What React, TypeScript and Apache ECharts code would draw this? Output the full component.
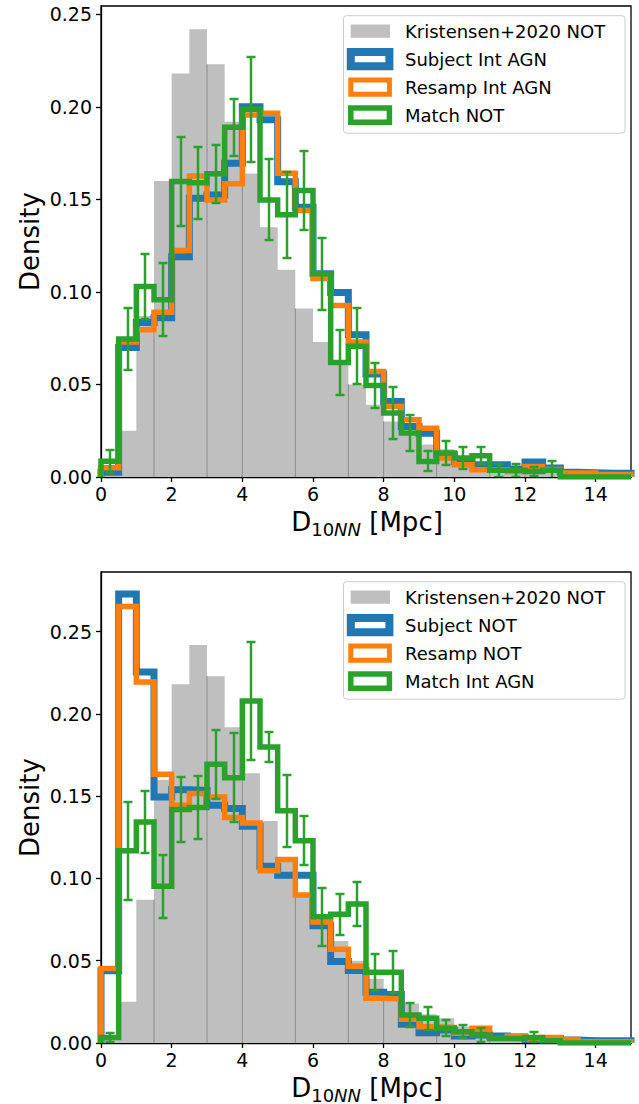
import { useEffect, useRef } from 'react';
import * as echarts from 'echarts';

const BIN = 0.5;
const X_MAX = 15;
const xTicks = [0, 2, 4, 6, 8, 10, 12, 14];
const yTicks = [0, 0.05, 0.1, 0.15, 0.2, 0.25];

// Kristensen+2020 NOT (same reference histogram in both panels)
const kristensen = [0.002, 0.025, 0.087, 0.16, 0.218, 0.242, 0.223, 0.192, 0.164, 0.135, 0.112, 0.091, 0.073, 0.062, 0.05, 0.039, 0.03, 0.024, 0.0175, 0.015, 0.01, 0.008, 0.006, 0.005, 0.004, 0.003, 0.002, 0.0015, 0.001, 0.001];

// top panel
const subjectIntAGN = [0.0025, 0.07, 0.0835, 0.086, 0.119, 0.1506, 0.1524, 0.1695, 0.2, 0.193, 0.1596, 0.1458, 0.1098, 0.0997, 0.0768, 0.0557, 0.0408, 0.0273, 0.0237, 0.012, 0.0084, 0.0066, 0.0066, 0.0043, 0.0081, 0.0048, 0.0025, 0.0023, 0.002, 0.002];
const resampIntAGN = [0.005, 0.073, 0.0796, 0.089, 0.1224, 0.1627, 0.1497, 0.1584, 0.1956, 0.1965, 0.1641, 0.144, 0.1072, 0.0927, 0.0729, 0.057, 0.0381, 0.0309, 0.0264, 0.0103, 0.0066, 0.0039, 0.0039, 0.003, 0.0057, 0.004, 0.0022, 0.0022, 0.0013, 0.0013];
const matchNOT = [0.0085, 0.0745, 0.103, 0.0958, 0.1597, 0.159, 0.1638, 0.189, 0.1987, 0.1497, 0.1417, 0.1548, 0.1098, 0.0619, 0.0706, 0.0495, 0.0346, 0.0238, 0.0084, 0.013, 0.0103, 0.0115, 0.0036, 0.0036, 0.003, 0.0036, 0, 0, 0, 0];
const matchNOTErr = [0.0063, 0.0167, 0.0175, 0.0198, 0.0239, 0.0195, 0.0156, 0.0155, 0.0283, 0.0219, 0.0231, 0.0211, 0.0195, 0.0174, 0.0205, 0.012, 0.014, 0.0095, 0.0054, 0.0065, 0.0059, 0.0047, 0.0036, 0.0036, 0.0025, 0.005, 0, 0, 0, 0];

// bottom panel
const subjectNOT = [0.0439, 0.273, 0.2255, 0.1496, 0.154, 0.1536, 0.1445, 0.1425, 0.1318, 0.1075, 0.102, 0.102, 0.0712, 0.0495, 0.044, 0.0308, 0.0295, 0.0114, 0.0063, 0.0079, 0.0043, 0.0049, 0.0043, 0.0035, 0.0022, 0.0028, 0.0018, 0.0014, 0.0014, 0.0014];
const resampNOT = [0.0453, 0.2654, 0.2194, 0.1634, 0.1445, 0.1516, 0.1496, 0.137, 0.1338, 0.1047, 0.1115, 0.0899, 0.0735, 0.057, 0.0466, 0.0272, 0.0268, 0.0144, 0.0099, 0.0095, 0.0059, 0.0089, 0.0028, 0.0043, 0.0025, 0.0034, 0.0022, 0.0008, 0.0008, 0.0008];
const matchIntAGN = [0.0034, 0.1168, 0.1344, 0.0953, 0.1419, 0.1431, 0.1694, 0.1613, 0.2079, 0.18, 0.1411, 0.1229, 0.0767, 0.0783, 0.0845, 0.043, 0.043, 0.017, 0.015, 0.0089, 0.0069, 0.0049, 0.0028, 0.0026, 0.0034, 0.0014, 0, 0, 0, 0];
const matchIntAGNErr = [0.0027, 0.0297, 0.0188, 0.0192, 0.0198, 0.0192, 0.021, 0.027, 0.0357, 0.0091, 0.0218, 0.015, 0.0175, 0.0124, 0.0134, 0.0114, 0.0129, 0.0073, 0.0069, 0.0049, 0.004, 0.0043, 0, 0, 0.003, 0, 0, 0, 0, 0];

const topLabels = ['Kristensen+2020 NOT', 'Subject Int AGN', 'Resamp Int AGN', 'Match NOT'];
const bottomLabels = ['Kristensen+2020 NOT', 'Subject NOT', 'Resamp NOT', 'Match Int AGN'];

// bin edges where the grey bars show a faint darker seam
const seamEdges = [1.5, 3, 4, 5.5, 7, 8, 9.5, 11, 12, 13.5];

const FONT = 'DejaVu Sans';
const GRAY = '#bfbfbf';
const BLUE = '#1f77b4';
const ORANGE = '#ff7f0e';
const GREEN = '#2ca02c';

function stepData(arr: number[]) {
  const n = arr.length;
  const pts: number[][] = [[0, 0]];
  arr.forEach((v, i) => pts.push([i * BIN, v]));
  pts.push([n * BIN, arr[n - 1]]);
  pts.push([n * BIN, 0]);
  return pts;
}

export default function App() {
  const ref = useRef<HTMLDivElement>(null);
  useEffect(() => {
    if (!ref.current) return;
    const chart = echarts.init(ref.current, null, { renderer: 'svg' });

    const panels = [
      { top: 6, height: 471, ymax: 0.2545, subject: subjectIntAGN, resamp: resampIntAGN, match: matchNOT, err: matchNOTErr, labels: topLabels },
      { top: 572, height: 471, ymax: 0.2863, subject: subjectNOT, resamp: resampNOT, match: matchIntAGN, err: matchIntAGNErr, labels: bottomLabels },
    ];

    const grids: any[] = [];
    const xAxes: any[] = [];
    const yAxes: any[] = [];
    const series: any[] = [];
    const graphics: any[] = [];

    panels.forEach((p, gi) => {
      grids.push({ left: 101, width: 530, top: p.top, height: p.height, show: true, borderColor: '#000', borderWidth: 1.3, backgroundColor: 'transparent' });
      xAxes.push({
        gridIndex: gi, type: 'value', min: 0, max: X_MAX, interval: 2,
        axisLine: { show: true, onZero: false, lineStyle: { color: '#000', width: 1.3 } },
        axisTick: { show: true, inside: false, length: 5, customValues: xTicks, lineStyle: { color: '#000', width: 1.3 } },
        axisLabel: {
          show: true, customValues: xTicks, margin: 7, color: '#000', fontSize: 19, fontFamily: FONT,
          formatter: (v: number) => (xTicks.indexOf(v) >= 0 ? String(v) : ''),
        },
        splitLine: { show: false },
      });
      yAxes.push({
        gridIndex: gi, type: 'value', min: 0, max: p.ymax, interval: 0.05,
        axisLine: { show: true, onZero: false, lineStyle: { color: '#000', width: 1.3 } },
        axisTick: { show: true, inside: false, length: 5, customValues: yTicks, lineStyle: { color: '#000', width: 1.3 } },
        axisLabel: {
          show: true, customValues: yTicks, margin: 9, color: '#000', fontSize: 19, fontFamily: FONT,
          formatter: (v: number) => {
            const k = v / 0.05;
            return Math.abs(k - Math.round(k)) < 1e-6 ? v.toFixed(2) : '';
          },
        },
        splitLine: { show: false },
      });

      // grey reference histogram
      series.push({
        type: 'line', xAxisIndex: gi, yAxisIndex: gi, step: 'end', data: stepData(kristensen),
        symbol: 'none', silent: true, z: 1,
        lineStyle: { width: 0, color: GRAY }, areaStyle: { color: GRAY, opacity: 1 },
      });
      // faint seams inside the grey histogram
      series.push({
        type: 'custom', xAxisIndex: gi, yAxisIndex: gi, silent: true, z: 2,
        data: seamEdges.map((e) => {
          const i = Math.round(e / BIN);
          return [e, Math.min(kristensen[i - 1], kristensen[i])];
        }),
        encode: { x: 0, y: 1 },
        renderItem: (_params: any, api: any) => {
          const a = api.coord([api.value(0), 0]);
          const b = api.coord([api.value(0), api.value(1)]);
          return { type: 'line', shape: { x1: a[0], y1: a[1], x2: b[0], y2: b[1] }, style: { stroke: '#8c8c8c', lineWidth: 1 } };
        },
      });

      const stepSeries = [
        { d: p.subject, c: BLUE, w: 7 },
        { d: p.resamp, c: ORANGE, w: 5.5 },
        { d: p.match, c: GREEN, w: 5.5 },
      ];
      stepSeries.forEach((s, k) => {
        series.push({
          type: 'line', xAxisIndex: gi, yAxisIndex: gi, step: 'end', data: stepData(s.d),
          symbol: 'none', silent: true, z: 3 + k,
          lineStyle: { color: s.c, width: s.w, join: 'miter', cap: 'butt' },
        });
      });

      // error bars on the matched sample
      series.push({
        type: 'custom', xAxisIndex: gi, yAxisIndex: gi, silent: true, z: 7, clip: true,
        data: p.match.map((v, i) => [i * BIN + BIN / 2, v, p.err[i]]).filter((d) => d[2] > 0),
        encode: { x: 0, y: 1 },
        renderItem: (_params: any, api: any) => {
          const x = api.value(0);
          const v = api.value(1);
          const e = api.value(2);
          const t = api.coord([x, v + e]);
          const b = api.coord([x, v - e]);
          const px = Math.round(t[0]);
          const ty = Math.round(t[1]);
          const by = Math.round(b[1]);
          const c = 4.5;
          const st = { stroke: GREEN, lineWidth: 2.5 };
          return {
            type: 'group',
            children: [
              { type: 'line', shape: { x1: px, y1: ty, x2: px, y2: by }, style: st },
              { type: 'line', shape: { x1: px - c, y1: ty, x2: px + c, y2: ty }, style: st },
              { type: 'line', shape: { x1: px - c, y1: by, x2: px + c, y2: by }, style: st },
            ],
          };
        },
      });

      // legend
      const boxTop = p.top + 9.7;
      graphics.push({
        type: 'rect', z: 100,
        shape: { x: 343.5, y: boxTop, width: 281.5, height: 117.5, r: 3 },
        style: { fill: 'rgba(255,255,255,0.8)', stroke: '#cccccc', lineWidth: 1 },
      });
      p.labels.forEach((lab, k) => {
        const cy = boxTop + 15.4 + 28 * k;
        if (k === 0) {
          graphics.push({ type: 'rect', z: 101, shape: { x: 350.7, y: cy - 6.7, width: 39.3, height: 13.4 }, style: { fill: GRAY } });
        } else {
          const col = [BLUE, ORANGE, GREEN][k - 1];
          const lw = [8, 5, 5.5][k - 1];
          graphics.push({ type: 'rect', z: 101, shape: { x: 350.8, y: cy - 7.1, width: 38.6, height: 14.2 }, style: { fill: '#fff', stroke: col, lineWidth: lw, lineJoin: 'miter' } });
        }
        graphics.push({
          type: 'text', z: 101, x: 405, y: cy,
          style: { text: lab, fill: '#000', fontSize: 18, fontFamily: FONT, align: 'left', verticalAlign: 'middle' },
        });
      });

      // axis titles
      graphics.push({
        type: 'text', z: 50, x: 30, y: p.top + p.height / 2, rotation: Math.PI / 2,
        style: { text: 'Density', fill: '#000', fontSize: 26, fontFamily: FONT, align: 'center', verticalAlign: 'middle' },
      });
      graphics.push({
        type: 'text', z: 50, x: 367, y: p.top + p.height + 45,
        style: {
          text: '{m|D}{s|10}{si|NN}{m| [Mpc]}', align: 'center', verticalAlign: 'middle',
          rich: {
            m: { fontSize: 26, fontFamily: FONT, fill: '#000', lineHeight: 32, verticalAlign: 'middle' },
            s: { fontSize: 18, fontFamily: FONT, fill: '#000', lineHeight: 18, verticalAlign: 'bottom' },
            si: { fontSize: 18, fontFamily: FONT, fill: '#000', fontStyle: 'italic', lineHeight: 18, verticalAlign: 'bottom' },
          },
        },
      });
    });

    chart.setOption({
      animation: false,
      backgroundColor: '#fff',
      textStyle: { fontFamily: FONT },
      grid: grids,
      xAxis: xAxes,
      yAxis: yAxes,
      series,
      graphic: { elements: graphics },
    });

    return () => chart.dispose();
  }, []);

  return <div ref={ref} style={{ position: 'absolute', left: 0, top: 0, width: 639, height: 1104 }} />;
}
